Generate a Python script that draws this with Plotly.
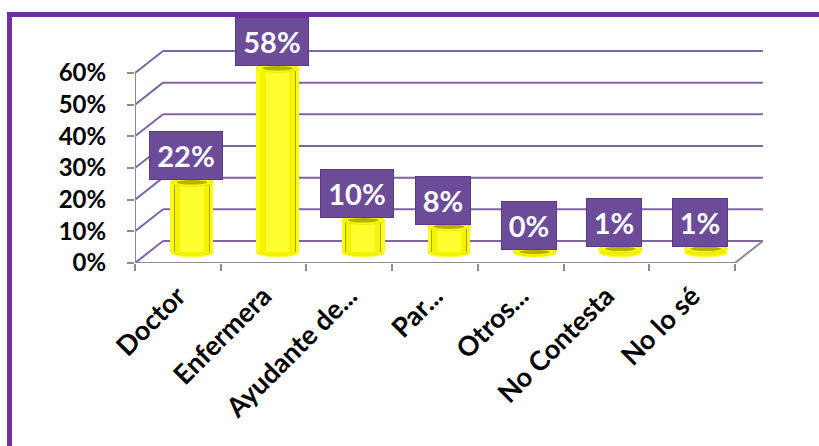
import plotly.graph_objects as go

# ---- data -----------------------------------------------------------------
categories = ["Doctor", "Enfermera", "Ayudante de...", "Par...",
              "Otros...", "No Contesta", "No lo sé"]
values = [22, 58, 10, 8, 0, 1, 1]            # percent
y_tick_values = [0, 10, 20, 30, 40, 50, 60]
y_tick_labels = [f"{v}%" for v in y_tick_values]

# ---- geometry (pixels) ----------------------------------------------------
W, H = 819, 446
PLOT_L, PLOT_R, PLOT_T, PLOT_B = 135, 770, 40, 263
PX_PER_CAT = 85.7          # width of one category slot
PX_PER_PCT = 3.167         # height of one percent
DEPTH_X, DEPTH_Y = 28, 22  # oblique offset of the back wall

X0 = -0.5
X1 = X0 + (PLOT_R - PLOT_L) / PX_PER_CAT
Y1 = (PLOT_B - PLOT_T) / PX_PER_PCT
DXU = DEPTH_X / PX_PER_CAT
DYU = DEPTH_Y / PX_PER_PCT
n = len(categories)

GRID = "#7f65a3"
AXIS = "#8c8c8c"
PURPLE = "#7030a0"
FONT = "Lato"

def px_to_paper_x(px):
    return (px - PLOT_L) / (PLOT_R - PLOT_L)

def px_to_paper_y(py):
    return (PLOT_B - py) / (PLOT_B - PLOT_T)

shapes = []

# outer purple frame
shapes.append(dict(type="rect", xref="paper", yref="paper",
                   x0=px_to_paper_x(9.5), x1=px_to_paper_x(840),
                   y0=px_to_paper_y(470), y1=px_to_paper_y(14.5),
                   line=dict(color=PURPLE, width=5), fillcolor="rgba(0,0,0,0)",
                   layer="below"))

# back-wall gridlines and left side-wall diagonals
for v in y_tick_values:
    shapes.append(dict(type="line", xref="x", yref="y",
                       x0=X0 + DXU, x1=n - 0.5 + DXU, y0=v + DYU, y1=v + DYU,
                       line=dict(color=GRID, width=2), layer="below"))
    shapes.append(dict(type="line", xref="x", yref="y",
                       x0=X0, x1=X0 + DXU, y0=v, y1=v + DYU,
                       line=dict(color=GRID, width=2), layer="below"))

# floor: front edge, right diagonal, vertical value axis
shapes.append(dict(type="line", xref="x", yref="y", x0=X0, x1=n - 0.5, y0=0, y1=0,
                   line=dict(color=AXIS, width=2), layer="below"))
shapes.append(dict(type="line", xref="x", yref="y", x0=n - 0.5, x1=n - 0.5 + DXU,
                   y0=0, y1=DYU, line=dict(color=AXIS, width=2), layer="below"))
shapes.append(dict(type="line", xref="x", yref="y", x0=X0, x1=X0, y0=0,
                   y1=y_tick_values[-1], line=dict(color=AXIS, width=2), layer="below"))

# cylinders: bodies as overlaid bars, caps as ellipses
bar_x = [i + DXU / 2 for i in range(n)]
base = DYU / 2
BAR_W = 0.5
CAP_H = 5 / PX_PER_PCT

for i, v in enumerate(values):
    cx = bar_x[i]
    # bottom rim
    shapes.append(dict(type="circle", xref="x", yref="y",
                       x0=cx - BAR_W / 2, x1=cx + BAR_W / 2,
                       y0=base - CAP_H, y1=base + CAP_H,
                       fillcolor="#f2f200", line=dict(color="#ffff40", width=1),
                       layer="below"))
    # top cap
    top = base + v
    shapes.append(dict(type="circle", xref="x", yref="y",
                       x0=cx - BAR_W / 2, x1=cx + BAR_W / 2,
                       y0=top - CAP_H * 0.8, y1=top + CAP_H * 0.8,
                       fillcolor="#ffff00", line=dict(color="#e8e800", width=1),
                       layer="above"))
    shapes.append(dict(type="circle", xref="x", yref="y",
                       x0=cx - BAR_W * 0.36, x1=cx + BAR_W * 0.36,
                       y0=top - CAP_H * 0.45, y1=top + CAP_H * 0.45,
                       fillcolor="#b8b000", line=dict(width=0),
                       layer="above"))

fig = go.Figure()
layers = [(BAR_W, "#ffff10"), (BAR_W * 0.84, "#a8a200"),
          (BAR_W * 0.80, "#f4f400"), (BAR_W * 0.55, "#ffff30")]
for w, c in layers:
    fig.add_trace(go.Bar(x=bar_x, y=values, base=[base] * n, width=w,
                         marker=dict(color=c, line=dict(width=0)),
                         hoverinfo="skip", showlegend=False))

# value labels in purple boxes
annotations = []
for i, v in enumerate(values):
    txt = f"{v}%"
    annotations.append(dict(
        x=i + 0.095, y=base + v, xref="x", yref="y",
        text=f"<b>{txt}</b>", showarrow=False, yanchor="bottom", yshift=2,
        font=dict(family=FONT, size=29, color="white"),
        bgcolor="#6c4b98", bordercolor="#5b3b86", borderwidth=1, borderpad=6,
        width=60 if len(txt) == 3 else 42, height=35))

fig.update_layout(
    width=W, height=H,
    margin=dict(l=PLOT_L, r=W - PLOT_R, t=PLOT_T, b=H - PLOT_B, pad=0),
    paper_bgcolor="white", plot_bgcolor="white",
    barmode="overlay", bargap=0,
    shapes=shapes, annotations=annotations,
    xaxis=dict(range=[X0, X1], tickmode="array", tickvals=list(range(n)),
               ticktext=categories, tickangle=-45, showgrid=False, zeroline=False,
               showline=False, ticks="", ticklabelstandoff=11,
               tickfont=dict(family=FONT, size=27, color="black", weight="bold"),
               minor=dict(tick0=-0.5, dtick=1, ticks="outside", ticklen=7,
                          tickcolor=AXIS, tickwidth=2, showgrid=False)),
    yaxis=dict(range=[0, Y1], tickmode="array", tickvals=y_tick_values,
               ticktext=y_tick_labels, showgrid=False, zeroline=False,
               showline=False, ticks="outside", ticklen=7, tickcolor=AXIS,
               tickwidth=2, ticklabelstandoff=16,
               tickfont=dict(family=FONT, size=24, color="black", weight="bold")),
)

fig.write_html("out.html")
